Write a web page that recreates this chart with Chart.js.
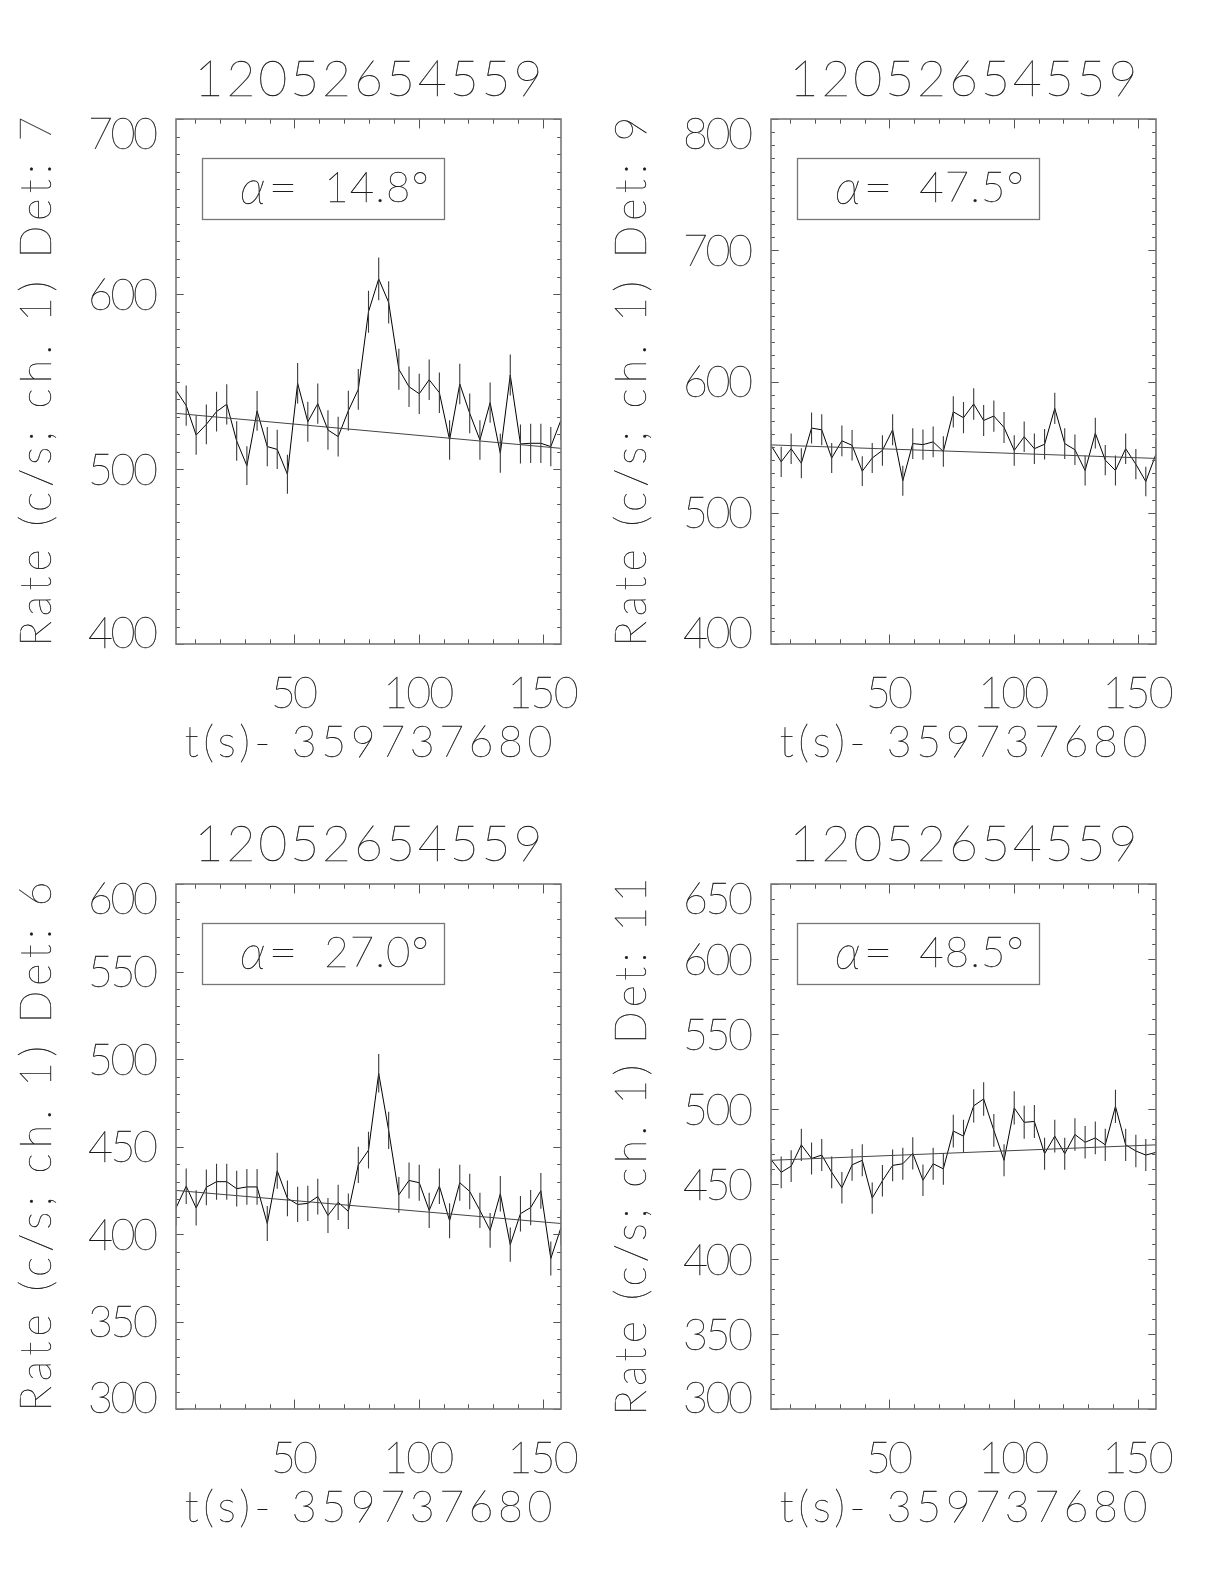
<!DOCTYPE html>
<html><head><meta charset="utf-8">
<script src="https://cdn.jsdelivr.net/npm/chart.js@4.4.0/dist/chart.umd.min.js"></script>
<style>
html,body{margin:0;padding:0;background:#fff;width:1224px;height:1584px;overflow:hidden}
.p{position:absolute;width:612px;height:792px}
canvas{display:block}
</style></head><body>
<div class="p" style="left:0;top:0"><canvas id="c1" width="612" height="792"></canvas></div>
<div class="p" style="left:612px;top:0"><canvas id="c2" width="612" height="792"></canvas></div>
<div class="p" style="left:0;top:792px"><canvas id="c3" width="612" height="792"></canvas></div>
<div class="p" style="left:612px;top:792px"><canvas id="c4" width="612" height="792"></canvas></div>
<script>
// ---------------- data ----------------
const times = [2.4, 6.5, 10.5, 14.6, 18.7, 22.8, 26.8, 30.9, 35.0, 39.1, 43.1, 47.2, 51.3, 55.4, 59.4, 63.5, 67.6, 71.7, 75.7, 79.8,
  83.9, 87.9, 92.0, 96.1, 100.2, 104.2, 108.3, 112.4, 116.5, 120.5, 124.6, 128.7, 132.8, 136.8, 140.9, 145.0, 149.1, 153.1, 157.2];

const rateDet7 = [545.1, 536.2, 519.4, 525.5, 532.8, 537.0, 516.0, 501.9, 533.2, 512.8, 511.2, 497.0, 549.0, 527.0, 537.3, 522.3, 518.5, 533.3, 545.5, 589.9,
  608.6, 595.2, 557.0, 547.0, 543.0, 551.0, 543.6, 516.6, 548.6, 531.8, 516.6, 537.9, 509.0, 553.7, 514.3, 514.7, 514.7, 512.8, 528.0];
const errDet7 = [11.6, 11.5, 11.3, 11.4, 11.4, 11.5, 11.3, 11.1, 11.4, 11.2, 11.2, 11.1, 11.6, 11.4, 11.5, 11.3, 11.3, 11.4, 11.6, 12.0,
  12.2, 12.1, 11.7, 11.6, 11.5, 11.6, 11.6, 11.3, 11.6, 11.4, 11.3, 11.5, 11.2, 11.7, 11.2, 11.2, 11.2, 11.2, 11.4];
const fitDet7 = [531.8, 511.8];

const rateDet9 = [551.4, 538.8, 548.8, 537.7, 564.5, 563.2, 541.7, 554.8, 551.4, 531.7, 541.7, 547.5, 563.2, 524.4, 552.7, 551.9, 554.0, 546.7, 576.9, 572.4,
  582.9, 570.3, 573.7, 565.0, 547.5, 557.9, 548.8, 552.2, 579.5, 552.7, 548.0, 532.2, 560.6, 540.1, 532.2, 548.8, 537.0, 523.8, 544.8];
const errDet9 = [11.6, 11.5, 11.6, 11.5, 11.8, 11.8, 11.5, 11.7, 11.6, 11.4, 11.5, 11.6, 11.8, 11.4, 11.7, 11.6, 11.7, 11.6, 11.9, 11.9,
  12.0, 11.8, 11.9, 11.8, 11.6, 11.7, 11.6, 11.6, 11.9, 11.7, 11.6, 11.4, 11.7, 11.5, 11.4, 11.6, 11.5, 11.3, 11.6];
const fitDet9 = [551.7, 541.4];

const rateDet6 = [414.9, 427.3, 414.9, 426.7, 429.9, 429.9, 425.9, 426.9, 426.9, 406.0, 436.1, 420.4, 416.9, 417.5, 421.4, 410.6, 418.1, 413.0, 439.5, 447.9,
  491.8, 459.2, 422.4, 430.6, 429.3, 413.5, 427.3, 407.6, 429.3, 424.3, 413.5, 402.1, 423.0, 393.9, 411.6, 415.1, 424.7, 386.0, 403.7];
const errDet6 = [10.1, 10.2, 10.1, 10.2, 10.3, 10.3, 10.2, 10.2, 10.2, 10.0, 10.3, 10.2, 10.1, 10.1, 10.2, 10.0, 10.1, 10.1, 10.4, 10.5,
  11.0, 10.6, 10.2, 10.3, 10.3, 10.1, 10.2, 10.0, 10.3, 10.2, 10.1, 9.9, 10.2, 9.8, 10.1, 10.1, 10.2, 9.7, 10.0];
const fitDet6 = [424.9, 406.0];

const rateDet11 = [466.3, 457.8, 461.9, 476.1, 467.0, 469.3, 457.8, 447.5, 462.8, 465.8, 440.6, 452.1, 462.4, 463.5, 470.4, 452.5, 463.5, 460.1, 485.3, 481.9,
  502.1, 506.7, 485.8, 465.8, 500.7, 491.1, 491.7, 470.2, 481.9, 470.2, 483.0, 477.8, 480.7, 476.1, 501.8, 476.1, 472.0, 469.3, 471.1];
const errDet11 = [10.7, 10.6, 10.6, 10.8, 10.7, 10.7, 10.6, 10.5, 10.6, 10.7, 10.4, 10.5, 10.6, 10.7, 10.7, 10.5, 10.7, 10.6, 10.9, 10.9,
  11.1, 11.2, 10.9, 10.7, 11.1, 11.0, 11.0, 10.7, 10.9, 10.7, 10.9, 10.8, 10.9, 10.8, 11.1, 10.8, 10.8, 10.7, 10.8];
const fitDet11 = [465.8, 476.1];

const yTicksDet7 = [400, 500, 600, 700];
const yTicksDet9 = [400, 500, 600, 700, 800];
const yTicksDet6 = [300, 350, 400, 450, 500, 550, 600];
const yTicksDet11 = [300, 350, 400, 450, 500, 550, 600, 650];
const xTicks = [50, 100, 150];

const titleText = '12052654559';
const xTitleText = 't(s)- 359737680';
const detLabels = ['7', '9', '6', '11'];
const alphaLabels = ['14.8', '47.5', '27.0', '48.5'];

// ---------------- drawing ----------------
const FONT = '"Lato", "DejaVu Sans", sans-serif';
const TXT = '#1a1a1a';
const WEIGHT = 100;

// draw text fitted into [x0, x0+width], vertically centred on cap height at cy
function drawSpan(ctx, text, x0, cy, size, width, style) {
  ctx.font = (style || '') + ' ' + WEIGHT + ' ' + size + 'px ' + FONT;
  ctx.letterSpacing = '0px';
  const n = [...text].length;
  const w = ctx.measureText(text).width;
  let ls = 0;
  if (width && n > 1) ls = (width - w) / (n - 1);
  ctx.letterSpacing = ls + 'px';
  const capH = ctx.measureText('0').actualBoundingBoxAscent;
  ctx.textAlign = 'left';
  ctx.textBaseline = 'alphabetic';
  ctx.fillText(text, x0, cy + capH / 2);
  ctx.lineWidth = 0.35;
  ctx.strokeStyle = TXT;
  ctx.strokeText(text, x0, cy + capH / 2);
  ctx.letterSpacing = '0px';
  return w + ls * (n - 1);
}
function drawCentered(ctx, text, cx, cy, size, width) {
  drawSpan(ctx, text, cx - width / 2, cy, size, width);
}
function drawRight(ctx, text, rx, cy, size, width) {
  drawSpan(ctx, text, rx - width, cy, size, width);
}

function framePlugin(p) {
  return {
    id: 'frame',
    afterDatasetsDraw(chart) {
      const ctx = chart.ctx, a = chart.chartArea, x = chart.scales.x, y = chart.scales.y;
      const W = a.right - a.left, H = a.bottom - a.top;
      ctx.save();
      // ticks (inside, on all four sides)
      ctx.strokeStyle = '#555';
      ctx.lineWidth = 1;
      const xl = H * 0.018, yl = W * 0.02;
      ctx.beginPath();
      for (let v = 10; v <= x.max; v += 10) {
        const px = Math.round(x.getPixelForValue(v)) + 0.5;
        const L = xTicks.includes(v) ? xl : xl / 2;
        ctx.moveTo(px, a.bottom); ctx.lineTo(px, a.bottom - L);
        ctx.moveTo(px, a.top); ctx.lineTo(px, a.top + L);
      }
      for (let v = p.yr[0]; v <= p.yr[1] + 1e-6; v += p.minor) {
        const py = Math.round(y.getPixelForValue(v)) + 0.5;
        const L = p.yt.includes(v) ? yl : yl / 2;
        ctx.moveTo(a.left, py); ctx.lineTo(a.left + L, py);
        ctx.moveTo(a.right, py); ctx.lineTo(a.right - L, py);
      }
      ctx.stroke();
      // plot frame
      ctx.strokeStyle = '#777';
      ctx.lineWidth = 1.6;
      ctx.strokeRect(a.left, a.top, W, H);
      // annotation box
      const bx0 = a.left + 0.0675 * W, bx1 = a.left + 0.695 * W;
      const by0 = a.top + 0.0735 * H, by1 = a.top + 0.19 * H;
      ctx.lineWidth = 1.3;
      ctx.strokeRect(Math.round(bx0) + 0.5, Math.round(by0) + 0.5, Math.round(bx1 - bx0), Math.round(by1 - by0));
      ctx.fillStyle = TXT;
      const cyBox = (by0 + by1) / 2 - 1;
      drawSpan(ctx, '\u03b1', a.left + 0.166 * W, cyBox, 48, 0, 'italic');
      drawSpan(ctx, '=', a.left + 0.24 * W, cyBox, 50, 0);
      drawSpan(ctx, p.alpha + '\u00b0', a.left + 0.385 * W, cyBox, 42, 0.272 * W);
      // title
      drawCentered(ctx, titleText, (a.left + a.right) / 2, a.top - 41, 50, 348);
      // x tick labels
      xTicks.forEach(v => {
        const s = String(v);
        drawCentered(ctx, s, x.getPixelForValue(v), a.bottom + 48, 43, s.length > 2 ? 71 : 47);
      });
      // x title
      drawCentered(ctx, xTitleText, (a.left + a.right) / 2, a.bottom + 97, 43, 368);
      // y tick labels
      p.yt.forEach(v => {
        let cy = y.getPixelForValue(v);
        if (v === p.yr[1]) cy += 14;
        if (v === p.yr[0]) cy -= 12;
        drawRight(ctx, String(v), a.left - 18, cy, 43, 70);
      });
      // y title
      ctx.save();
      ctx.translate(a.left - 141, (a.top + a.bottom) / 2);
      ctx.rotate(-Math.PI / 2);
      const yt = 'Rate (c/s; ch. 1) Det: ' + p.det;
      drawCentered(ctx, yt, 0, 0, 43, p.det.length > 1 ? 538 : 530);
      ctx.restore();
      ctx.restore();
    }
  };
}

const PANELS = [
  {id: 'c1', det: detLabels[0], alpha: alphaLabels[0], rates: rateDet7, errs: errDet7, fit: fitDet7, yr: [400, 700], yt: yTicksDet7, minor: 10,
   pad: {left: 176, top: 119, right: 51, bottom: 148}},
  {id: 'c2', det: detLabels[1], alpha: alphaLabels[1], rates: rateDet9, errs: errDet9, fit: fitDet9, yr: [400, 800], yt: yTicksDet9, minor: 10,
   pad: {left: 159, top: 119, right: 68, bottom: 148}},
  {id: 'c3', det: detLabels[2], alpha: alphaLabels[2], rates: rateDet6, errs: errDet6, fit: fitDet6, yr: [300, 600], yt: yTicksDet6, minor: 10,
   pad: {left: 176, top: 92, right: 51, bottom: 175}},
  {id: 'c4', det: detLabels[3], alpha: alphaLabels[3], rates: rateDet11, errs: errDet11, fit: fitDet11, yr: [300, 650], yt: yTicksDet11, minor: 10,
   pad: {left: 159, top: 92, right: 68, bottom: 175}}
];

PANELS.forEach(p => {
  const line = times.map((t, i) => ({x: t, y: p.rates[i]}));
  const bars = [];
  times.forEach((t, i) => {
    bars.push({x: t, y: p.rates[i] - p.errs[i]});
    bars.push({x: t, y: p.rates[i] + p.errs[i]});
    bars.push({x: t, y: null});
  });
  const last = times.length - 1;
  const fit = [{x: times[0], y: p.fit[0]}, {x: times[last], y: p.fit[1]}];
  new Chart(document.getElementById(p.id), {
    type: 'line',
    data: {datasets: [
      {data: fit, borderColor: '#444', borderWidth: 1, pointRadius: 0, tension: 0},
      {data: bars, borderColor: '#3a3a3a', borderWidth: 1.1, pointRadius: 0, spanGaps: false, tension: 0},
      {data: line, borderColor: '#000', borderWidth: 1, pointRadius: 0, tension: 0}
    ]},
    options: {
      responsive: false, animation: false, devicePixelRatio: 1, events: [],
      layout: {padding: p.pad},
      plugins: {legend: {display: false}, tooltip: {enabled: false}, title: {display: false}},
      scales: {
        x: {type: 'linear', min: times[0], max: times[last], display: false},
        y: {type: 'linear', min: p.yr[0], max: p.yr[1], display: false}
      }
    },
    plugins: [framePlugin(p)]
  });
});
</script>
</body></html>
